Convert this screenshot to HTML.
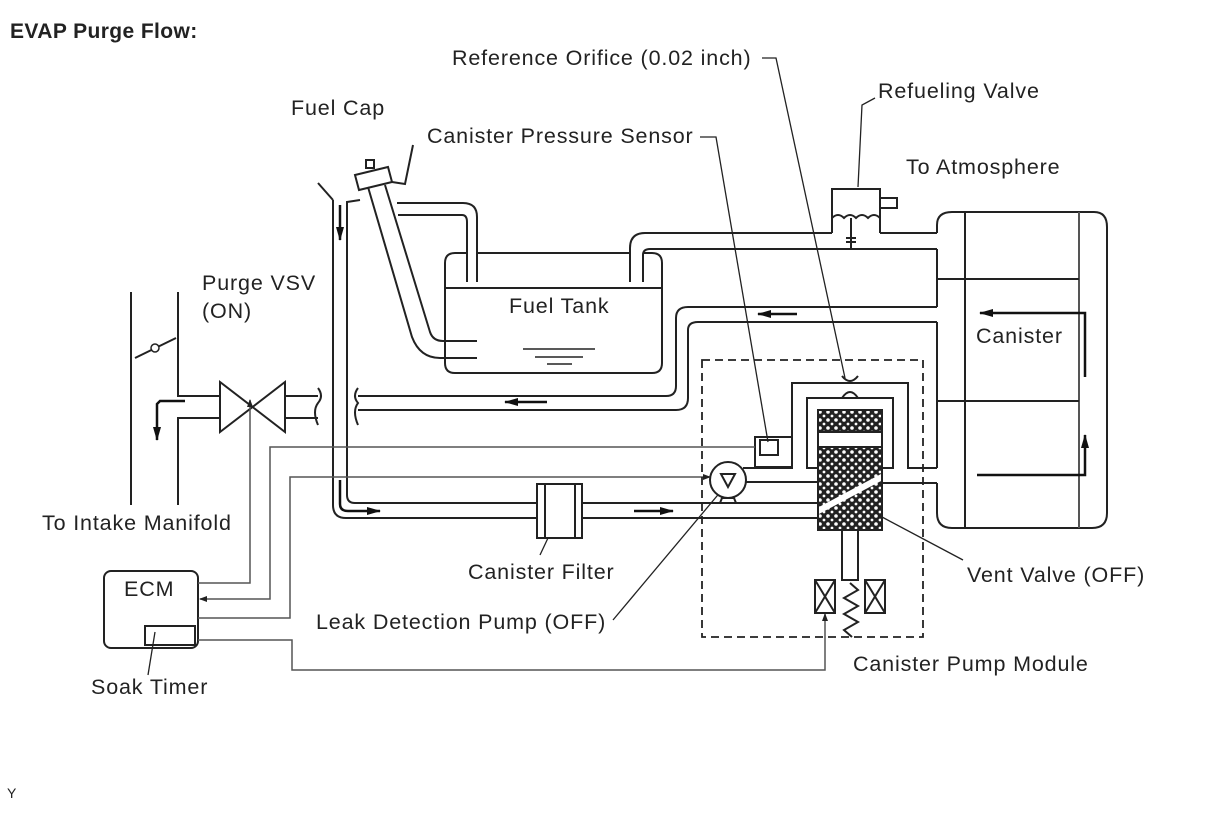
<!DOCTYPE html>
<html><head><meta charset="utf-8"><style>
html,body{margin:0;padding:0;background:#fff;}
svg{display:block;}
text{font-family:"Liberation Sans",Arial,sans-serif;font-size:21.5px;letter-spacing:0.85px;fill:#222;}
</style></head><body>
<svg width="1210" height="816" viewBox="0 0 1210 816" xmlns="http://www.w3.org/2000/svg">
<defs>
<pattern id="hatch" width="8" height="8" patternUnits="userSpaceOnUse">
<rect width="8" height="8" fill="#222"/>
<circle cx="4" cy="4" r="1.8" fill="#fff"/><circle cx="0" cy="0" r="1.4" fill="#fff"/><circle cx="8" cy="0" r="1.4" fill="#fff"/><circle cx="0" cy="8" r="1.4" fill="#fff"/><circle cx="8" cy="8" r="1.4" fill="#fff"/>
</pattern>
<marker id="ah" markerWidth="8" markerHeight="8" refX="7" refY="4" orient="auto" markerUnits="userSpaceOnUse"><path d="M0,1 L8,4 L0,7z" fill="#222"/></marker>
<marker id="ahb" markerWidth="14" markerHeight="10" refX="13" refY="5" orient="auto" markerUnits="userSpaceOnUse"><path d="M0,1 L14,5 L0,9z" fill="#111"/></marker>
</defs>
<text x="10" y="38" style="font-weight:bold;font-size:21px;letter-spacing:0.4px">EVAP Purge Flow:</text>
<text x="452" y="65">Reference Orifice (0.02 inch)</text>
<text x="291" y="115">Fuel Cap</text>
<text x="427" y="143">Canister Pressure Sensor</text>
<text x="878" y="98">Refueling Valve</text>
<text x="906" y="174">To Atmosphere</text>
<text x="202" y="290">Purge VSV</text>
<text x="202" y="318">(ON)</text>
<text x="509" y="313">Fuel Tank</text>
<text x="976" y="343">Canister</text>
<text x="42" y="530">To Intake Manifold</text>
<text x="124" y="596">ECM</text>
<text x="468" y="579">Canister Filter</text>
<text x="967" y="582">Vent Valve (OFF)</text>
<text x="316" y="629">Leak Detection Pump (OFF)</text>
<text x="853" y="671">Canister Pump Module</text>
<text x="91" y="694">Soak Timer</text>
<text x="7" y="798" style="font-size:14px;letter-spacing:0">Y</text>

<g fill="none" stroke="#222" stroke-width="1.3">
<polyline points="762,58 776,58 845,378"/>
<polyline points="700,137 716,137 768,442"/>
<polyline points="875,98 862,105 858,187"/>
<line x1="548" y1="538" x2="540" y2="555"/>
<line x1="613" y1="620" x2="722" y2="490"/>
<line x1="882" y1="517" x2="963" y2="560"/>
<line x1="155" y1="632" x2="148" y2="675"/>
</g>

<g fill="none" stroke="#222" stroke-width="2">
<line x1="131" y1="292" x2="131" y2="505"/>
<polyline points="178,292 178,396 220,396"/>
<polyline points="178,505 178,418 220,418"/>
<line x1="135" y1="358" x2="176" y2="338"/>
<path d="M220,382 L220,432 L285,382 L285,432 Z"/>
<polyline points="285,396 318,396"/><polyline points="285,418 318,418"/>
<path d="M318,388 q6,8 0,15 q-6,8 0,22"/>
<path d="M358,388 q-6,8 0,15 q-6,8 0,22"/>
<path d="M358,396 L666,396 Q676,396 676,386 L676,318 Q676,307 688,307 L937,307"/>
<path d="M358,410 L676,410 Q688,410 688,398 L688,330 Q688,322 698,322 L937,322"/>
<line x1="318" y1="183" x2="333" y2="200"/>
<path d="M333,200 L333,505 Q333,518 346,518 L537,518"/>
<path d="M360,200 L347,202 L347,495 Q347,503 355,503 L537,503"/>
<path d="M368,187 L412,337 Q420,358 440,358 L477,358"/>
<path d="M385,185 L430,332 Q433,341 443,341 L477,341"/>
<polygon points="355,175 388,167 392,182 359,190"/>
<rect x="366" y="160" width="8" height="8"/>
<path d="M397,203 L463,203 Q477,203 477,217 L477,282"/>
<path d="M398,215 L462,215 Q467,215 467,222 L467,282"/>
<polyline points="392,182 405,184 413,145"/>
<path d="M467,253 L455,253 Q445,253 445,263 L445,363 Q445,373 455,373 L652,373 Q662,373 662,363 L662,263 Q662,253 652,253 L643,253"/>
<line x1="477" y1="253" x2="630" y2="253"/>
<line x1="445" y1="288" x2="662" y2="288"/>
<path d="M630,282 L630,248 Q630,233 645,233 L832,233"/>
<path d="M643,282 L643,255 Q643,249 650,249 L937,249"/>
<line x1="880" y1="233" x2="937" y2="233"/>
<path d="M832,233 L832,189 L880,189 L880,233"/>
<polyline points="880,198 897,198 897,208 880,208"/>
<path d="M832,218 q6,-6 12,0 q6,-6 12,0 q6,-6 12,0 q6,-6 12,0"/>
<line x1="851" y1="218" x2="851" y2="249"/>
<line x1="846" y1="238" x2="856" y2="238"/><line x1="846" y1="242" x2="856" y2="242"/>
<path d="M937,233 L937,225 Q937,212 952,212 L1094,212 Q1107,212 1107,227 L1107,513 Q1107,528 1092,528 L952,528 Q937,528 937,513 L937,483"/>
<line x1="937" y1="249" x2="937" y2="307"/>
<line x1="937" y1="322" x2="937" y2="468"/>
<line x1="965" y1="212" x2="965" y2="528"/>
<line x1="1079" y1="212" x2="1079" y2="528" stroke="#555"/>
<line x1="937" y1="279" x2="1079" y2="279"/>
<line x1="937" y1="401" x2="1079" y2="401"/>
<polyline points="743,468 792,468 792,383 908,383 908,468 937,468"/>
<polyline points="818,468 807,468 807,398 893,398 893,468 882,468"/>
<line x1="746" y1="482" x2="818" y2="482"/>
<line x1="882" y1="483" x2="937" y2="483"/>
<line x1="582" y1="503" x2="818" y2="503"/>
<line x1="582" y1="518" x2="818" y2="518"/>
<rect x="755" y="437" width="37" height="30"/>
<rect x="760" y="440" width="18" height="15"/>
<circle cx="728" cy="480" r="18" fill="#fff"/>
<path d="M721,474 L735,474 L728,487z"/>
<path d="M722,498 L734,498 L736,503 L720,503z"/>
<rect x="537" y="484" width="45" height="54" fill="#fff"/>
<line x1="545" y1="484" x2="545" y2="538"/><line x1="575" y1="484" x2="575" y2="538"/>
<path d="M842,376 q8,10 16,0"/><path d="M842,398 q8,-12 16,0"/>
<rect x="842" y="530" width="16" height="50"/>
<rect x="815" y="580" width="20" height="33"/><line x1="815" y1="580" x2="835" y2="613"/><line x1="835" y1="580" x2="815" y2="613"/>
<rect x="865" y="580" width="20" height="33"/><line x1="865" y1="580" x2="885" y2="613"/><line x1="885" y1="580" x2="865" y2="613"/>
<polyline points="850,583 858,590 844,598 858,606 844,614 858,622 844,630 852,637"/>
<rect x="104" y="571" width="94" height="77" rx="7"/>
<rect x="145" y="626" width="50" height="19"/>
</g>
<rect x="818" y="410" width="64" height="120" fill="url(#hatch)" stroke="#222" stroke-width="2"/>
<rect x="819" y="432" width="62" height="15" fill="#fff"/>
<line x1="818" y1="447" x2="882" y2="447" stroke="#222" stroke-width="2"/>
<line x1="819" y1="432" x2="881" y2="432" stroke="#222" stroke-width="2"/>
<polygon points="819,507 881,474 881,481 819,514" fill="#fff"/>
<circle cx="155" cy="348" r="4" fill="#fff" stroke="#222" stroke-width="1.5"/>

<g fill="none" stroke="#555" stroke-width="1.5">
<polyline points="198,583 250,583 250,400" marker-end="url(#ah)"/>
<polyline points="755,447 270,447 270,599 200,599" marker-end="url(#ah)"/>
<polyline points="198,618 290,618 290,477 710,477" marker-end="url(#ah)"/>
<polyline points="198,640 292,640 292,670 825,670 825,614" marker-end="url(#ah)"/>
</g>
<rect x="702" y="360" width="221" height="277" fill="none" stroke="#222" stroke-width="1.8" stroke-dasharray="8,5"/>

<g fill="none" stroke="#111" stroke-width="2.5">
<polyline points="185,401 160,401 157,404 157,440" marker-end="url(#ahb)"/>
<line x1="340" y1="205" x2="340" y2="240" marker-end="url(#ahb)"/>
<path d="M340,480 L340,504 Q340,511 348,511 L380,511" marker-end="url(#ahb)"/>
<line x1="634" y1="511" x2="673" y2="511" marker-end="url(#ahb)"/>
<line x1="547" y1="402" x2="505" y2="402" marker-end="url(#ahb)"/>
<line x1="797" y1="314" x2="758" y2="314" marker-end="url(#ahb)"/>
<polyline points="1085,377 1085,313 980,313" marker-end="url(#ahb)"/>
<polyline points="977,475 1085,475 1085,435" marker-end="url(#ahb)"/>
</g>
<g stroke="#222" stroke-width="1.5">
<line x1="523" y1="349" x2="595" y2="349"/><line x1="535" y1="357" x2="583" y2="357"/><line x1="547" y1="364" x2="572" y2="364"/>
</g>
</svg>
</body></html>
